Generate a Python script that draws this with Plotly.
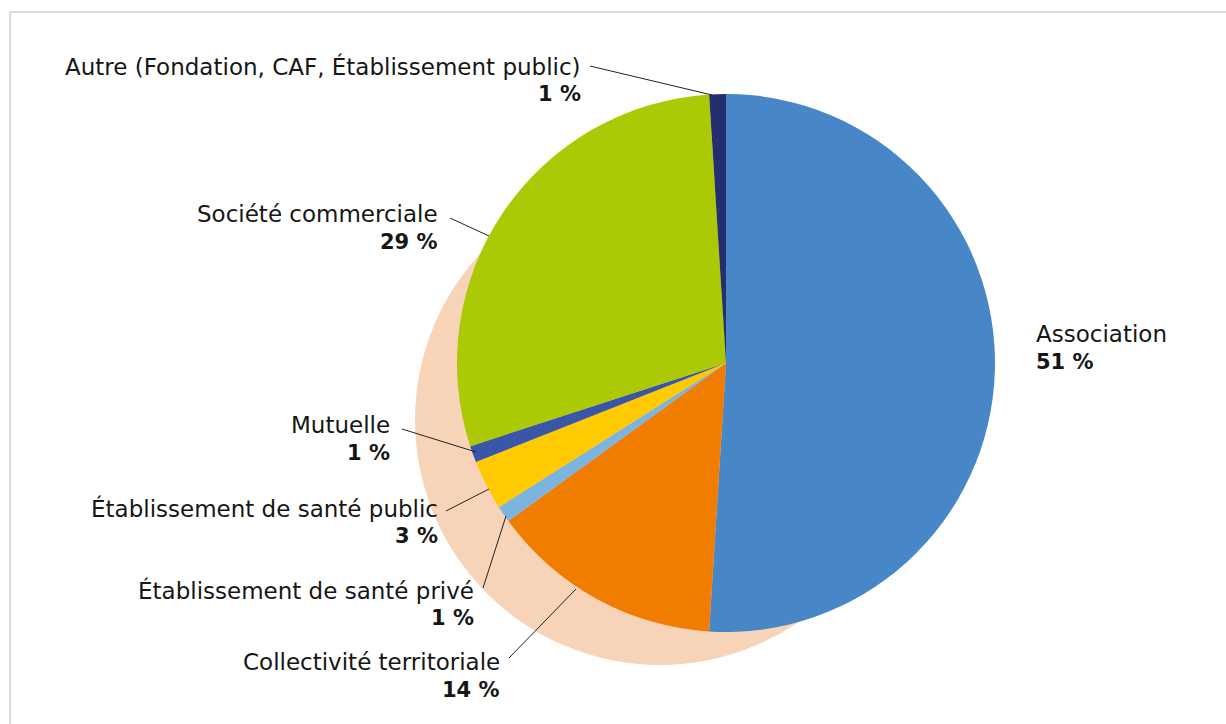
import plotly.graph_objects as go

W, H = 1226, 724

labels = ["Association", "Collectivité territoriale", "Établissement de santé privé",
          "Établissement de santé public", "Mutuelle", "Société commerciale",
          "Autre (Fondation, CAF, Établissement public)"]
values = [51, 14, 1, 3, 1, 29, 1]
pct_text = ["51 %", "14 %", "1 %", "3 %", "1 %", "29 %", "1 %"]
colors = ["#4787C7", "#F07C00", "#7CB4E0", "#FFCA00", "#3A57A7", "#ABC904", "#232F6E"]

# label placement (pixels): anchor x, y of name line, side
label_pos = [
    (1034, 334, "left"),
    (502, 662, "right"),
    (476, 590, "right"),
    (440, 508, "right"),
    (392, 425, "right"),
    (440, 214, "right"),
    (583, 66, "right"),
]
name_sizes = [23, 23, 23, 23, 23, 23, 23]
leaders = [
    None,
    ((509, 658), (576, 589)),
    ((483, 588), (506, 516)),
    ((446, 511), (489, 489)),
    ((402, 429), (476, 452)),
    ((450, 218), (489, 236)),
    ((590, 66), (712, 95)),
]

def px(x):
    return x / W

def py(y):
    return 1 - y / H

cx, cy, r = 726, 363, 269
FONT = "DejaVu Sans"

fig = go.Figure()
fig.add_trace(go.Pie(
    labels=labels, values=values, sort=False, direction="clockwise", rotation=0,
    marker=dict(colors=colors, line=dict(width=0)),
    textinfo="none", hoverinfo="label+percent", showlegend=False,
    domain=dict(x=[px(cx - r), px(cx + r)], y=[py(cy + r), py(cy - r)]),
))

shapes = []
# peach shadow circle
scx, scy, sr = 660, 420, 245
shapes.append(dict(type="circle", xref="paper", yref="paper", layer="below",
                   x0=px(scx - sr), x1=px(scx + sr), y0=py(scy + sr), y1=py(scy - sr),
                   fillcolor="#F7D3B8", line=dict(width=0)))
# frame
shapes.append(dict(type="line", xref="paper", yref="paper", x0=px(10), y0=py(12), x1=px(1226), y1=py(12),
                   line=dict(color="#D9D9D9", width=2)))
shapes.append(dict(type="line", xref="paper", yref="paper", x0=px(10), y0=py(12), x1=px(10), y1=py(724),
                   line=dict(color="#D9D9D9", width=2)))
for ld in leaders:
    if ld:
        (x0, y0), (x1, y1) = ld
        shapes.append(dict(type="line", xref="paper", yref="paper", x0=px(x0), y0=py(y0),
                           x1=px(x1), y1=py(y1), line=dict(color="#222222", width=1)))

annotations = []
for name, pct, (ax, ay, side), fs in zip(labels, pct_text, label_pos, name_sizes):
    xa = "left" if side == "left" else "right"
    annotations.append(dict(x=px(ax), y=py(ay), xref="paper", yref="paper", text=name,
                            showarrow=False, xanchor=xa, yanchor="middle",
                            font=dict(family=FONT, size=fs, color="#161616")))
    annotations.append(dict(x=px(ax), y=py(ay + 28), xref="paper", yref="paper", text="<b>" + pct + "</b>",
                            showarrow=False, xanchor=xa, yanchor="middle",
                            font=dict(family=FONT, size=21, color="#161616")))

fig.update_layout(width=W, height=H, margin=dict(l=0, r=0, t=0, b=0),
                  paper_bgcolor="white", plot_bgcolor="white",
                  shapes=shapes, annotations=annotations)
fig.write_html("out.html")
